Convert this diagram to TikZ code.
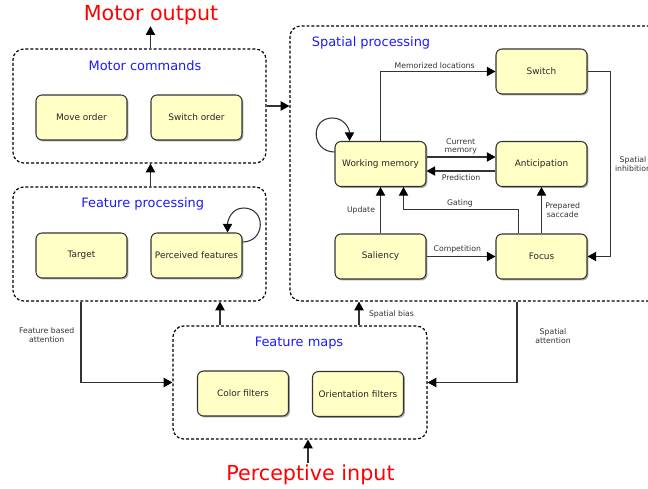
\documentclass[tikz,border=0pt]{standalone}
\usepackage{fontspec}
\setmainfont{DejaVu Sans}
\usetikzlibrary{arrows.meta,shadows,fit,calc}
\definecolor{boxfill}{HTML}{FFFFC6}
\definecolor{linegray}{HTML}{333333}
\definecolor{titleblue}{HTML}{1A1AFF}
\begin{document}
\begin{tikzpicture}[x=0.75pt,y=-0.75pt,
 unit/.style={draw=linegray, fill=boxfill, rounded corners=4.5pt, line width=0.8pt,
   minimum width=68.25pt, minimum height=33.75pt, inner sep=0pt, text=black!85,
   font=\fontsize{6.7}{8}\selectfont,
   drop shadow={shadow xshift=1.1pt, shadow yshift=-1.1pt, opacity=0.35, fill=black}},
 group/.style={draw=black, dash pattern=on 2.2pt off 1.5pt, line width=0.9pt,
   rounded corners=8pt, inner sep=0pt},
 gtitle/.style={text=titleblue, font=\fontsize{9.7}{11}\selectfont},
 big/.style={text=red, font=\fontsize{15.5}{18}\selectfont, inner sep=1pt},
 conn/.style={draw=linegray, line width=0.8pt,
   -{Triangle[length=6.5pt,width=7pt,color=black]}},
 lbl/.style={font=\fontsize{5.8}{6.6}\selectfont, text=black!80, align=center, inner sep=0pt},
]
\useasboundingbox (0,0) rectangle (648,488);
\clip (0,0) rectangle (648,488);

% groups
\node[group, fit={(13,49) (266,163)}] (mc) {};
\node[group, fit={(13,187) (266,301)}] (fp) {};
\node[group, fit={(290,26) (700,301)}] (sp) {};
\node[group, fit={(173,326) (427,439)}] (fm) {};

% titles
\node[gtitle] (mct) at (145,66) {Motor commands};
\node[gtitle] (fpt) at (142.7,204) {Feature processing};
\node[gtitle] (spt) at (371,43.3) {Spatial processing};
\node[gtitle] (fmt) at (299,342.7) {Feature maps};
\node[big] (out) at (151,15) {Motor output};
\node[big] (in) at (310.5,474.5) {Perceptive input};

% units
\node[unit] (mo) at (81.5,117.5) {Move order};
\node[unit] (so) at (196.5,117.5) {Switch order};
\node[unit] (ta) at (81.5,255.5) {Target};
\node[unit] (pf) at (196.5,255.5) {Perceived features};
\node[unit] (sw) at (541.5,71.5) {Switch};
\node[unit] (wm) at (380.5,164) {Working memory};
\node[unit] (an) at (541.5,164) {Anticipation};
\node[unit] (sal) at (380.5,256.5) {Saliency};
\node[unit] (fo) at (541.5,256.5) {Focus};
\node[unit] (cf) at (243,393.5) {Color filters};
\node[unit] (of) at (358,394) {Orientation filters};

% helper coordinates
\coordinate (xfa) at (220,0);
\coordinate (xsb) at (359,0);
\coordinate (xfba) at (81,0);
\coordinate (xsa) at (517,0);
\coordinate (xpi) at (308,0);

% connectors between groups
\draw[conn] (so.west |- mc.north) -- (so.west |- out.south);
\draw[conn] (so.west |- fp.north) -- (so.west |- mc.south);
\draw[conn] (mc.east) -- (mc.east -| sp.west);
\draw[conn] (xfa |- fm.north) -- (xfa |- fp.south);
\draw[conn] (xsb |- fm.north) -- (xsb |- sp.south);
\node[lbl] (lsb) at (391.5,314) {Spatial bias};
\draw[conn] (xfba |- fp.south) |- (fm.west);
\node[lbl] (lfba) at (46.7,335.5) {Feature based\\attention};
\draw[conn] (xsa |- sp.south) |- (fm.east);
\node[lbl] (lsa) at (553,336) {Spatial\\attention};
\draw[conn] (xpi |- in.north) -- (xpi |- fm.south);

% perceived features loop
\draw[conn] ($(pf.east)+(0,-13.5)$) .. controls +(23,0) and +(23,0) .. ($(pf.east)+(1,-47.5)$)
  .. controls +(-12,0) and +(0,-12) .. ($(pf.north east)+(-15,0)$);

% spatial processing
\draw[conn] ($(wm.west)+(0,-12)$) .. controls +(-23,0) and +(-23,0) .. ($(wm.west)+(-2,-46)$)
  .. controls +(12,0) and +(0,-12) .. ($(wm.north west)+(15,0)$);
\draw[conn] (wm.north) |- (sw.west);
\node[lbl] (lml) at (434.7,66) {Memorized locations};
\draw[conn] ($(wm.east)+(0,-7)$) -- ($(an.west)+(0,-7)$);
\node[lbl] (lcm) at (460.7,146.5) {Current\\memory};
\draw[conn] ($(an.west)+(0,7)$) -- ($(wm.east)+(0,7)$);
\node[lbl] (lpr) at (461,177.5) {Prediction};
\draw[conn] (sal.north) -- (wm.south);
\node[lbl] (lup) at (361,210.7) {Update};
\draw[conn] ($(fo.north)+(-23,0)$) -- ++(0,-24) -| ($(wm.south)+(23,0)$);
\node[lbl] (lga) at (460,203.3) {Gating};
\draw[conn] (fo.north) -- (an.south);
\node[lbl] (lps) at (562.7,210) {Prepared\\saccade};
\draw[conn] (sal.east) -- (fo.west);
\node[lbl] (lco) at (457.3,249) {Competition};
\draw[conn] (sw.east) -- ++(23,0) |- (fo.east);
\node[lbl] (lsi) at (633,164) {Spatial\\inhibition};
\end{tikzpicture}
\end{document}
